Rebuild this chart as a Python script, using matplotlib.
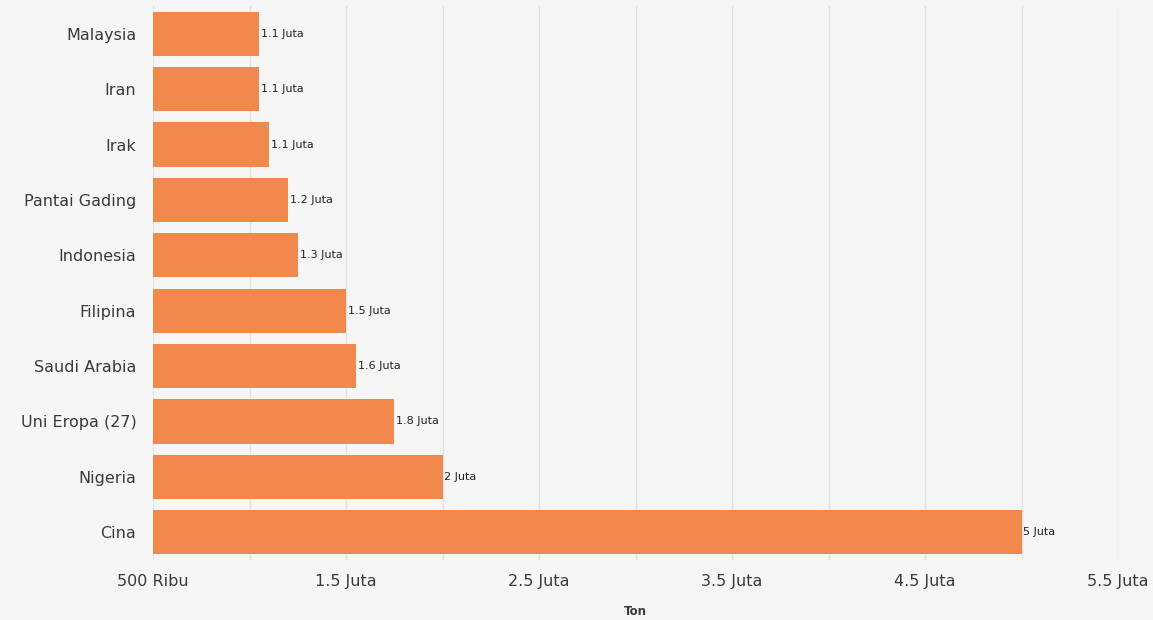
import matplotlib.pyplot as plt

countries = ['Malaysia', 'Iran', 'Irak', 'Pantai Gading', 'Indonesia',
             'Filipina', 'Saudi Arabia', 'Uni Eropa (27)', 'Nigeria', 'Cina']
values = [1.05, 1.05, 1.1, 1.2, 1.25, 1.5, 1.55, 1.75, 2.0, 5.0]  # juta ton
value_labels = ['1.1 Juta', '1.1 Juta', '1.1 Juta', '1.2 Juta', '1.3 Juta',
                '1.5 Juta', '1.6 Juta', '1.8 Juta', '2 Juta', '5 Juta']
tick_vals = [0.5, 1.5, 2.5, 3.5, 4.5, 5.5]
tick_labels = ['500 Ribu', '1.5 Juta', '2.5 Juta', '3.5 Juta', '4.5 Juta', '5.5 Juta']

bg = '#f6f6f6'
bar_color = '#f0894b'
txt = '#3a3a3a'

fig = plt.figure(figsize=(11.53, 6.2), dpi=100, facecolor=bg)
ax = fig.add_axes([0.1327, 0.097, 0.837, 0.893], facecolor=bg)

ypos = list(range(len(countries)))
ax.barh(ypos, values, height=0.8, color=bar_color, zorder=2)
for y, v, lab in zip(ypos, values, value_labels):
    ax.text(v + 0.01, y, lab, va='center', ha='left', fontsize=8,
            color='#222222', zorder=3)

ax.set_ylim(len(countries) - 0.5, -0.5)
ax.set_yticks(ypos)
ax.set_yticklabels(countries, fontsize=11.5, color=txt)

ax.set_xlim(0.5, 5.5)
ax.set_xticks(tick_vals)
ax.set_xticklabels(tick_labels, fontsize=11.5, color=txt)
ax.set_xticks([1.0, 2.0, 3.0, 4.0, 5.0], minor=True)
ax.grid(axis='x', which='both', color='#e2e2e2', linewidth=1, zorder=0)
ax.tick_params(axis='both', which='both', length=0)
ax.tick_params(axis='y', pad=12)
ax.tick_params(axis='x', pad=10)
ax.set_xlabel('Ton', fontsize=8.5, fontweight='bold', color=txt, labelpad=12)

for s in ax.spines.values():
    s.set_visible(False)

plt.savefig('out.png', dpi=100, facecolor=bg)
